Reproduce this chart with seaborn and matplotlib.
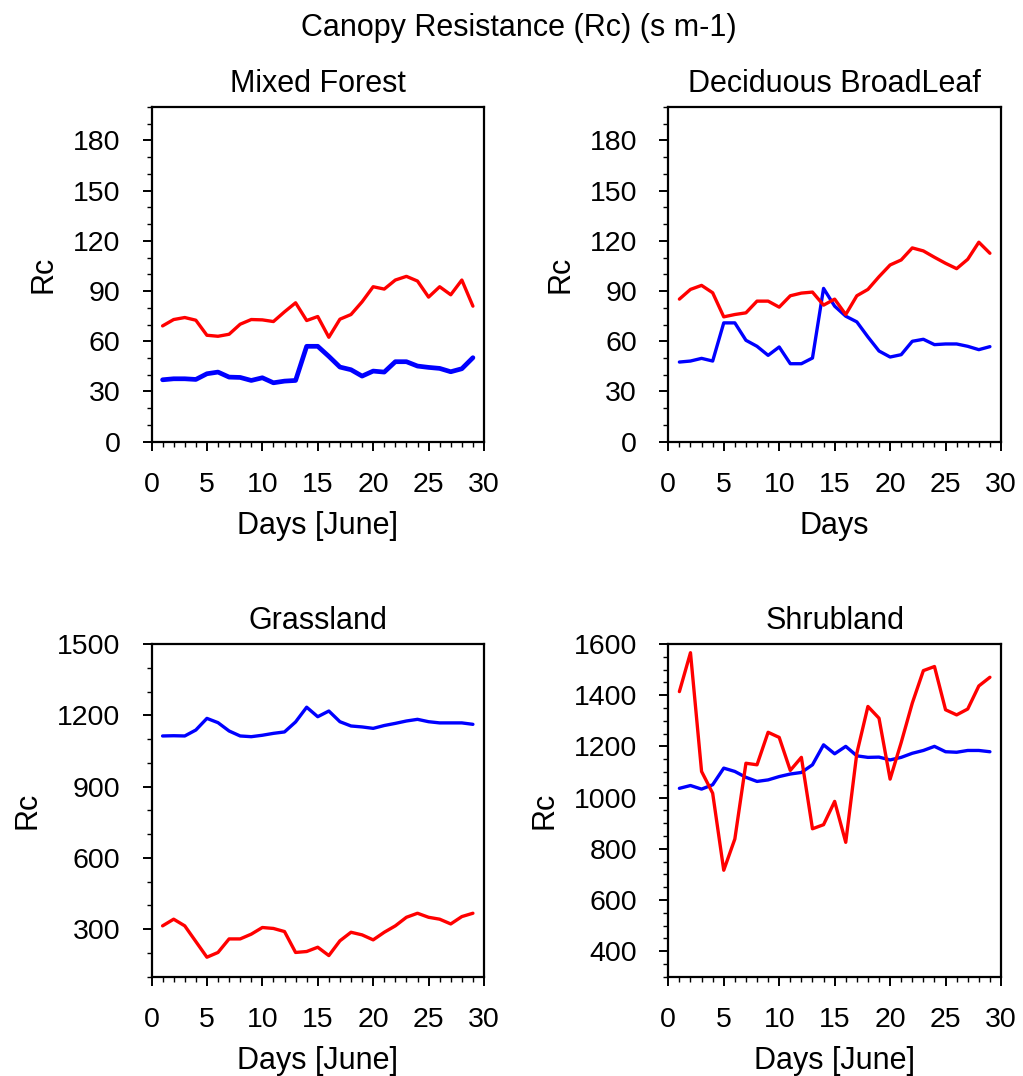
import numpy as np
import pandas as pd
import matplotlib
matplotlib.use("Agg")
import matplotlib.pyplot as plt
from matplotlib.ticker import MultipleLocator
import seaborn as sns

days = list(range(1, 30))

mixed_red = [69.2, 73, 74.2, 72.6, 63.6, 63, 64.2, 70.2, 73, 72.8, 71.8, 77.6, 83, 72.4,
             74.8, 62.4, 73.2, 76, 83.6, 92.6, 91.2, 96.6, 98.8, 96, 86.4, 92.6, 87.8, 96.6, 81]
mixed_blue = [37, 37.6, 37.6, 37.2, 40.6, 41.6, 38.6, 38.4, 36.6, 38.2, 35.2, 36.2, 36.6, 57,
              57, 51, 44.6, 43, 39.2, 42.2, 41.6, 47.8, 47.8, 45.2, 44.4, 43.8, 41.8, 43.6, 50.2]

decid_red = [85.2, 91, 93.4, 89, 74.6, 76, 77, 84, 84, 80.4, 87.2, 88.8, 89.4, 81.6, 85.2,
             76, 87.2, 91, 98.6, 105.6, 108.6, 115.8, 114, 110.2, 106.6, 103.4, 109, 119.2, 112.6]
decid_blue = [47.6, 48.2, 49.8, 48.2, 71, 71, 60.6, 57, 51.6, 56.6, 46.6, 46.6, 50, 91.6, 81,
              75, 71.6, 62.6, 54.2, 50.6, 52, 60, 61.2, 58, 58.4, 58.4, 57, 55, 56.8]

grass_red = [314, 342, 314, 248, 182, 202, 259, 259, 279, 307, 303, 290, 202, 206, 224, 189,
             251, 287, 276, 255, 287, 314, 350, 367, 350, 342, 322, 353, 367]
grass_blue = [1113, 1114, 1113, 1138, 1187, 1169, 1134, 1113, 1110, 1116, 1124, 1130, 1172,
              1234, 1194, 1218, 1173, 1155, 1151, 1145, 1157, 1166, 1176, 1183, 1173, 1168,
              1168, 1168, 1162]

shrub_red = [1414, 1566, 1102, 1017, 716, 838, 1134, 1128, 1255, 1235, 1106, 1157, 878, 894,
             985, 825, 1173, 1356, 1310, 1072, 1215, 1369, 1496, 1512, 1343, 1323, 1346, 1436, 1470]
shrub_blue = [1036, 1047, 1033, 1050, 1115, 1102, 1079, 1063, 1069, 1082, 1092, 1098, 1128,
              1206, 1171, 1200, 1163, 1157, 1158, 1147, 1157, 1173, 1184, 1200, 1179, 1177,
              1184, 1184, 1179]

titles = ["Mixed Forest", "Deciduous BroadLeaf", "Grassland", "Shrubland"]
xlabels = ["Days [June]", "Days", "Days [June]", "Days [June]"]
main_title = "Canopy Resistance (Rc) (s m-1)"

sns.set_style("ticks")
plt.rcParams["font.family"] = ["Liberation Sans", "DejaVu Sans"]
plt.rcParams["text.color"] = "black"
plt.rcParams["axes.labelcolor"] = "black"
plt.rcParams["xtick.color"] = "black"
plt.rcParams["ytick.color"] = "black"

W, H = 1023, 1076
fig = plt.figure(figsize=(W / 100, H / 100), dpi=100)

def frac(left, top, right, bottom):
    return [left / W, 1 - bottom / H, (right - left) / W, (bottom - top) / H]

boxes = [frac(151.5, 107, 484, 441.7), frac(668.3, 107, 1001, 441.7),
         frac(151.5, 644, 484, 976.7), frac(668.3, 644, 1001, 976.7)]
ylims = [(0, 200), (0, 200), (100, 1500), (300, 1600)]
ymin = [10, 10, 100, 50]
yticks = [list(range(0, 181, 30)), list(range(0, 181, 30)),
          list(range(300, 1501, 300)), list(range(400, 1601, 200))]
series = [(mixed_red, mixed_blue), (decid_red, decid_blue),
          (grass_red, grass_blue), (shrub_red, shrub_blue)]
blue_lw = [3.4, 2.4, 2.4, 2.4]

for i in range(4):
    ax = fig.add_axes(boxes[i])
    red, blue = series[i]
    df = pd.DataFrame({"day": days * 2, "Rc": blue + red,
                       "run": ["blue"] * len(days) + ["red"] * len(days)})
    sns.lineplot(data=df[df.run == "blue"], x="day", y="Rc", color="#0000FF",
                 linewidth=blue_lw[i], ax=ax, legend=False)
    sns.lineplot(data=df[df.run == "red"], x="day", y="Rc", color="#FF0000",
                 linewidth=2.4, ax=ax, legend=False)
    ax.set_xlim(0, 30)
    ax.set_ylim(*ylims[i])
    ax.xaxis.set_major_locator(MultipleLocator(5))
    ax.xaxis.set_minor_locator(MultipleLocator(1))
    ax.set_yticks(yticks[i])
    ax.yaxis.set_minor_locator(MultipleLocator(ymin[i]))
    for s in ax.spines.values():
        s.set_linewidth(1.6)
        s.set_color("black")
    ax.tick_params(axis="both", which="major", direction="out", length=6.5, width=1.4,
                   labelsize=20.5, colors="black")
    ax.tick_params(axis="both", which="minor", direction="out", length=3.5, width=1.0,
                   colors="black")
    ax.tick_params(axis="x", which="major", pad=15)
    ax.tick_params(axis="y", which="major", pad=16)
    ax.set_xlabel(xlabels[i], fontsize=22, labelpad=10, color="black")
    ax.set_ylabel("Rc", fontsize=22, labelpad=10, color="black")
    ax.set_title(titles[i], fontsize=22, pad=10.5, color="black")

fig.text(0.507, 1 - 28 / H, main_title, ha="center", va="center", fontsize=22,
         color="black")

fig.savefig("out.png", dpi=100)
